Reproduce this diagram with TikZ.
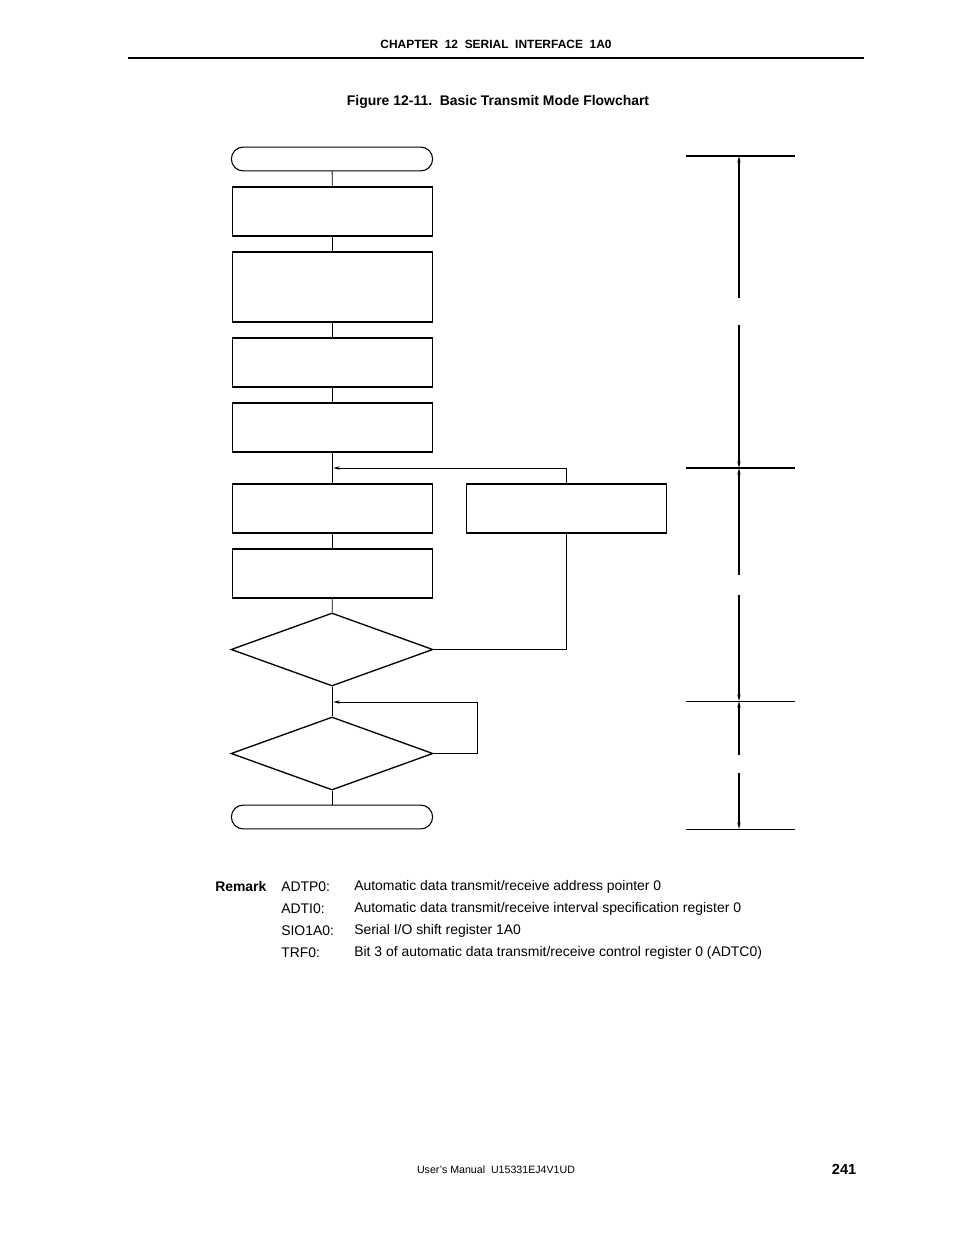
\documentclass[tikz,border=0pt]{standalone}
\usepackage{fontspec}
\setmainfont{Liberation Sans}
\usetikzlibrary{shapes.geometric,arrows.meta}
\tikzset{stepbox/.style={draw,line width=1.2pt,minimum width=150.75pt,minimum height=36.75pt,inner sep=0pt}}
\tikzset{termbox/.style={draw,line width=0.8pt,rounded corners=9pt,minimum width=151.5pt,minimum height=18pt,inner sep=0pt}}
\tikzset{decide/.style={diamond,draw,line width=1pt,minimum width=152pt,minimum height=55pt,inner sep=0pt}}
\tikzset{flow/.style={line width=0.6pt}}
\tikzset{farrow/.style={flow,-{Stealth[length=5pt,width=2.5pt]}}}
\tikzset{darrow/.style={line width=0.8pt,-{Stealth[length=5pt,width=2.5pt]}}}
\begin{document}
\begin{tikzpicture}[x=0.02646cm,y=-0.02646cm]
        \useasboundingbox (0,0) rectangle (954,1235);
        % page head
        \node[font=\bfseries\fontsize{9}{10}\selectfont] (head) at (496,44) {CHAPTER\ \ 12\ \ SERIAL\ \ INTERFACE\ \ 1A0};
        \draw[line width=1.2pt] (128,58) -- (864,58);
        \node[font=\bfseries\fontsize{10.5}{12}\selectfont] (title) at (498,102) {Figure 12-11.\ \ Basic Transmit Mode Flowchart};
        % flowchart
        \node[termbox] (start) at (332,159) {};
        \node[stepbox] (b1) at (332.5,211.5) {};
        \node[stepbox,minimum height=52.5pt] (b2) at (332.5,287) {};
        \node[stepbox] (b3) at (332.5,362.5) {};
        \node[stepbox] (b4) at (332.5,427.5) {};
        \node[stepbox] (b5) at (332.5,508.5) {};
        \node[stepbox] (b6) at (566.5,508.5) {};
        \node[stepbox] (b7) at (332.5,573.5) {};
        \node[decide] (d1) at (332,649.5) {};
        \node[decide] (d2) at (332,753.5) {};
        \node[termbox] (stop) at (332,817) {};
        \coordinate (m1) at (332,468);
        \coordinate (m2) at (332,702);
        \draw[flow] (start) -- (b1);
        \draw[flow] (b1) -- (b2);
        \draw[flow] (b2) -- (b3);
        \draw[flow] (b3) -- (b4);
        \draw[flow] (b4) -- (b5);
        \draw[flow] (b5) -- (b7);
        \draw[flow] (b7) -- (d1);
        \draw[flow] (d1) -- (d2);
        \draw[flow] (d2) -- (stop);
        \draw[farrow] (b6.north) |- ([xshift=1pt]m1);
        \draw[flow] (d1.east) -| (b6.south);
        \draw[farrow] (d2.east) -- (477,753.5) |- ([xshift=1pt]m2);
        % time scale
        \draw[line width=1.5pt] (686,156) -- (795,156);
        \draw[line width=1.5pt] (686,468) -- (795,468);
        \draw[line width=0.6pt] (686,701) -- (795,701);
        \draw[line width=0.6pt] (686,829) -- (795,829);
        \coordinate (t0) at (739,156);
        \coordinate (t1) at (739,468);
        \coordinate (t2) at (739,701);
        \coordinate (t3) at (739,829);
        \draw[darrow] (739,298) -- (t0);
        \draw[darrow] (739,325) -- (t1);
        \draw[darrow] (739,575) -- (t1);
        \draw[darrow] (739,595) -- (t2);
        \draw[darrow] (739,755) -- (t2);
        \draw[darrow] (739,773) -- (t3);
        % remark
        \begin{scope}[every node/.style={anchor=west,font=\fontsize{10.5}{12}\selectfont,inner sep=0pt}]
        \node[font=\bfseries\fontsize{10.5}{12}\selectfont] (rem) at (215,887) {Remark};
        \node (k1) at (281,887) {ADTP0:};
        \node (v1) at (354,887) {Automatic data transmit/receive address pointer 0};
        \node (k2) at (281,909) {ADTI0:};
        \node (v2) at (354,909) {Automatic data transmit/receive interval specification register 0};
        \node (k3) at (281,931) {SIO1A0:};
        \node (v3) at (354,931) {Serial I/O shift register 1A0};
        \node (k4) at (281,953) {TRF0:};
        \node (v4) at (354,953) {Bit 3 of automatic data transmit/receive control register 0 (ADTC0)};
        \end{scope}
        % page foot
        \node[font=\fontsize{8}{9}\selectfont] (foot) at (496,1170) {User’s Manual\ \ U15331EJ4V1UD};
        \node[font=\bfseries\fontsize{11}{12}\selectfont,anchor=east] (page) at (861,1169) {241};
\end{tikzpicture}
\end{document}
